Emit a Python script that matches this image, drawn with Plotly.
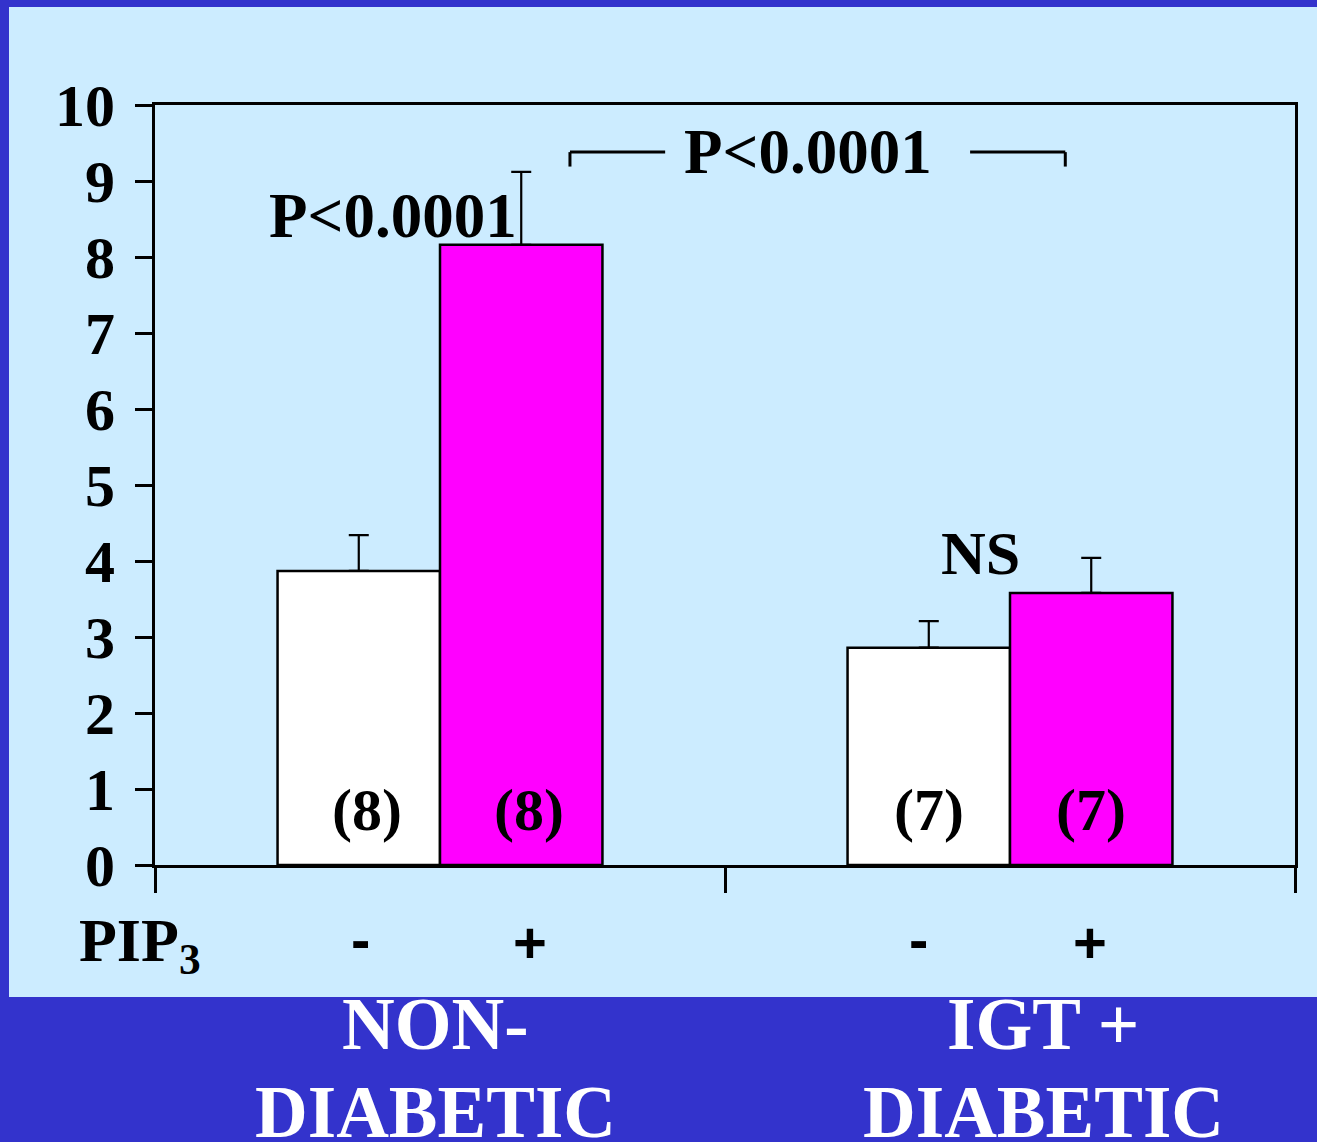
import plotly.graph_objects as go

# Groups and treatment
groups = ["NON-DIABETIC", "IGT + DIABETIC"]
group_pos = [0, 1]
pip3_minus = [3.87, 2.86]
pip3_minus_err = [0.47, 0.35]
pip3_plus = [8.16, 3.58]
pip3_plus_err = [0.96, 0.46]
n_labels = ["(8)", "(7)"]
y_ticks = list(range(0, 11))

FONT = "Liberation Serif"
SIGN_FONT = "Liberation Sans"
PANEL = "#CCECFF"
OUTER = "#3333CC"
MAGENTA = "#FF00FF"

fig = go.Figure()
fig.add_trace(go.Bar(
    x=group_pos, y=pip3_minus, name="PIP3 -",
    marker=dict(color="white", line=dict(color="black", width=2.5)),
    error_y=dict(type="data", symmetric=False, array=pip3_minus_err,
                 arrayminus=[0, 0], color="black", thickness=2.2, width=10),
))
fig.add_trace(go.Bar(
    x=group_pos, y=pip3_plus, name="PIP3 +",
    marker=dict(color=MAGENTA, line=dict(color="black", width=2.5)),
    error_y=dict(type="data", symmetric=False, array=pip3_plus_err,
                 arrayminus=[0, 0], color="black", thickness=2.2, width=10),
))


def bold(size, color="black", family=FONT):
    return dict(family=family, size=size, color=color, weight="bold")


def px_x(px):
    # horizontal pixel -> paper fraction of the plot area
    return (px - 155) / 1140


def px_y(py):
    # vertical pixel -> paper fraction of the plot area
    return (865 - py) / 760


half = 0.1425  # half of one bar's width in data units

annotations = []
# sample counts inside the bars
for g, lab, shift in zip(group_pos, n_labels, [8, 0]):
    for dx in (-half, half):
        annotations.append(dict(x=g + dx, y=0.72, text=lab, showarrow=False,
                                xshift=shift, font=bold(60)))
# PIP3 -/+ row
for g, shifts in zip(group_pos, [(2, 9), (-10, -1)]):
    annotations.append(dict(x=g - half, xshift=shifts[0], y=px_y(940), yref="paper",
                            yanchor="middle", text="-", showarrow=False,
                            font=bold(58, family=SIGN_FONT)))
    annotations.append(dict(x=g + half, xshift=shifts[1], y=px_y(942), yref="paper",
                            yanchor="middle", text="+", showarrow=False,
                            font=bold(58, family=SIGN_FONT)))

fig.update_layout(
    width=1317, height=1142,
    margin=dict(l=155, r=22, t=105, b=277),
    paper_bgcolor=OUTER,
    plot_bgcolor=PANEL,
    barmode="group",
    bargap=0.43,
    bargroupgap=0,
    showlegend=False,
    xaxis=dict(range=[-0.5, 1.5], tickmode="array", tickvals=[-0.5, 0.5, 1.5],
               showticklabels=False, ticks="outside", ticklen=25, tickwidth=2.5,
               tickcolor="black", showline=True, linecolor="black", linewidth=3,
               mirror=True, showgrid=False, zeroline=False),
    yaxis=dict(range=[0, 10], tickmode="array", tickvals=y_ticks,
               ticks="outside", ticklen=17, tickwidth=2.5, tickcolor="black",
               showline=True, linecolor="black", linewidth=3, mirror=True,
               showgrid=False, zeroline=False, tickfont=bold(60),
               ticklabelstandoff=8),
)

# light panel behind the chart
fig.add_shape(type="rect", xref="paper", yref="paper",
              x0=px_x(9), x1=px_x(1320), y0=px_y(997), y1=px_y(7),
              fillcolor=PANEL, line=dict(width=0), layer="below")

# bracket between the two PIP3+ bars
br_y, br_drop = 9.38, 9.19
br_l, br_r = 0.228, 1.097
br_gap_l, br_gap_r = 0.395, 0.930
for seg in [(br_l, br_y, br_gap_l, br_y), (br_gap_r, br_y, br_r, br_y),
            (br_l, br_y, br_l, br_drop), (br_r, br_y, br_r, br_drop)]:
    fig.add_shape(type="line", xref="x", yref="y",
                  x0=seg[0], y0=seg[1], x1=seg[2], y1=seg[3],
                  line=dict(color="black", width=3))

annotations += [
    dict(x=0.0, y=8.54, text="P<0.0001", showarrow=False, xshift=-47, font=bold(63)),
    dict(x=0.66, y=9.38, text="P<0.0001", showarrow=False, xshift=-8, font=bold(63)),
    dict(x=1.0, y=4.1, text="NS", showarrow=False, xshift=-30, font=bold(62)),
    dict(x=px_x(77), xref="paper", xanchor="left",
         y=px_y(945), yref="paper", yanchor="middle", text="PIP<sub>3</sub>",
         showarrow=False, font=bold(62)),
]
for cx, lines in [(435, ["NON-", "DIABETIC"]), (1043, ["IGT +", "DIABETIC"])]:
    for cy, line in zip([1024, 1112], lines):
        annotations.append(dict(x=px_x(cx), xref="paper", xanchor="center",
                                y=px_y(cy), yref="paper", yanchor="middle",
                                text=line, showarrow=False, font=bold(73, "white")))
fig.update_layout(annotations=annotations)

fig.write_html("out.html")
